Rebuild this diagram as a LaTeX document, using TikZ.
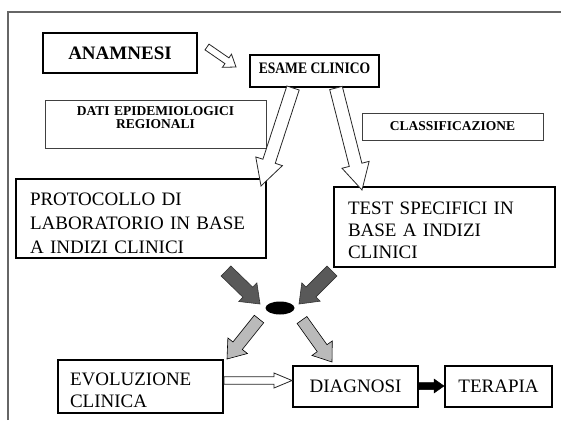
\documentclass[tikz,border=0pt]{standalone}
\usepackage{fontspec}
\setmainfont{Liberation Serif}
\usepackage{graphicx}
\usetikzlibrary{calc,shapes.geometric}

\tikzset{
  thickbox/.style={draw=black, line width=2pt, rectangle, inner sep=0pt, font=\fontsize{19}{23.5}\selectfont},
  thinbox/.style={draw=black!75, line width=0.8pt, rectangle, inner sep=0pt, align=center, font=\bfseries\fontsize{13.5}{13}\selectfont},
  hollowarr/.style={draw=black!85, line width=0.8pt, fill=white, line join=miter},
  darkarr/.style={draw=black!80, line width=0.6pt, fill=black!65},
  lightarr/.style={draw=black, line width=0.6pt, fill=black!27},
  solidarr/.style={draw=black, fill=black, line width=0.5pt},
  framestyle/.style={draw=black!60, line width=1.5pt}
}

% #1 style, #2 tail, #3 tip, #4 shaft half width, #5 head half width, #6 head length
\newcommand\blockarrow[6]{%
  \coordinate (ba-c) at ($(#3)!#6!(#2)$);
  \draw[#1] ($(#2)!#4!90:(#3)$) -- ($(ba-c)!#4!-90:(#2)$) -- ($(ba-c)!#5!-90:(#2)$)
    -- (#3) -- ($(ba-c)!#5!90:(#2)$) -- ($(ba-c)!#4!90:(#2)$) -- ($(#2)!#4!-90:(#3)$) -- cycle;
}

\begin{document}
\begin{tikzpicture}[x=1pt,y=-1pt]
\useasboundingbox (0,0) rectangle (561,420);
\fill[white] (0,0) rectangle (561,420);
\draw[framestyle] (8,420) -- (8,12) -- (561,12);

\node[thickbox, minimum width=154pt, minimum height=40pt, font=\bfseries\fontsize{19}{22}\selectfont] (anam) at (120,53) {ANAMNESI};
\node[thickbox, minimum width=129pt, minimum height=32pt, text height=10.6pt, text depth=6pt, font=\bfseries\fontsize{16}{18}\selectfont] (esame) at (314.5,71) {\scalebox{0.85}[1]{ESAME CLINICO}};
\node[thinbox, minimum width=221pt, minimum height=48pt, text width=215pt, text height=8.9pt, text depth=26.8pt] (dati) at (155.5,124) {DATI EPIDEMIOLOGICI\\REGIONALI};
\node[thinbox, minimum width=181pt, minimum height=27pt] (class) at (452.5,126.5) {CLASSIFICAZIONE};
\node[thickbox, minimum width=250pt, minimum height=79pt, text width=222pt, align=left, text height=21pt, text depth=48pt, font=\fontsize{19}{24}\selectfont] (prot) at (141,218.5) {PROTOCOLLO DI\\LABORATORIO IN BASE\\A INDIZI CLINICI};
\node[thickbox, minimum width=221pt, minimum height=80pt, text width=193pt, align=left, text height=18pt, text depth=44pt, font=\fontsize{19}{22}\selectfont] (test) at (444.5,227) {TEST SPECIFICI IN\\BASE A INDIZI\\CLINICI};
\node[thickbox, minimum width=165pt, minimum height=53pt, text width=141pt, align=left, text height=19pt, text depth=22pt, font=\fontsize{19}{22}\selectfont] (evol) at (140.5,386.5) {EVOLUZIONE\\CLINICA};
\node[thickbox, minimum width=125pt, minimum height=41pt] (diag) at (355.5,386.5) {DIAGNOSI};
\node[thickbox, minimum width=107pt, minimum height=41pt] (ter) at (498.5,386.5) {TERAPIA};
\node[ellipse, fill=black, minimum width=29pt, minimum height=13pt, inner sep=0pt] (hub) at (280,308) {};

% connector end points
\coordinate (a1s) at (207,47);  \coordinate (a1e) at (236,67);
\coordinate (a2s) at (293,88);  \coordinate (a2e) at (261,186);
\coordinate (a3s) at (336,88);  \coordinate (a3e) at (362,190);
\coordinate (a4s) at (226,271); \coordinate (a4e) at (260,304);
\coordinate (a5s) at (332,271); \coordinate (a5e) at (299,304);
\coordinate (a6s) at (259,319); \coordinate (a6e) at (227,359);
\coordinate (a7s) at (302,320); \coordinate (a7e) at (332,362);
\coordinate (a8s) at ($(evol.east |- 0,380.5)$); \coordinate (a8e) at ($(diag.west |- 0,380.5)$);
\coordinate (a9s) at ($(diag.east |- 0,386)$);  \coordinate (a9e) at ($(ter.west |- 0,386)$);

\blockarrow{hollowarr}{a1s}{a1e}{3.5pt}{8pt}{11pt}
\blockarrow{hollowarr}{a2s}{a2e}{6.5pt}{14pt}{26pt}
\blockarrow{hollowarr}{a3s}{a3e}{6.5pt}{14pt}{26pt}
\blockarrow{darkarr}{a4s}{a4e}{7pt}{13pt}{17pt}
\blockarrow{darkarr}{a5s}{a5e}{7pt}{13pt}{17pt}
\blockarrow{lightarr}{a6s}{a6e}{6pt}{12.5pt}{17pt}
\blockarrow{lightarr}{a7s}{a7e}{6pt}{12.5pt}{17pt}
\blockarrow{hollowarr}{a8s}{a8e}{3.7pt}{7.5pt}{18pt}
\blockarrow{solidarr}{a9s}{a9e}{3.5pt}{7pt}{10pt}
\end{tikzpicture}
\end{document}
